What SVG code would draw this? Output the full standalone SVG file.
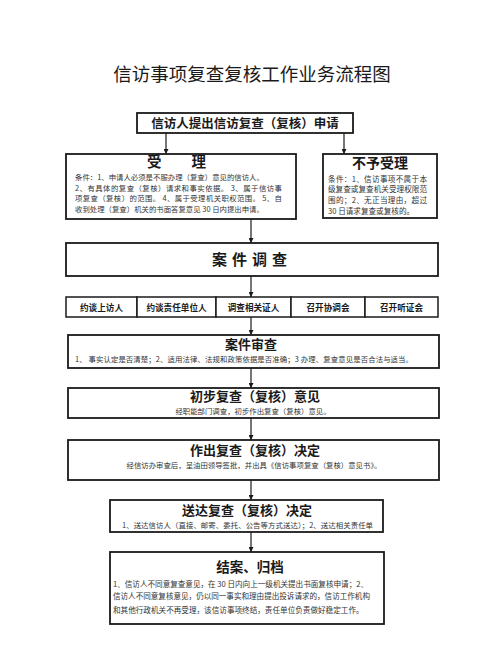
<svg xmlns="http://www.w3.org/2000/svg" width="500" height="660" viewBox="0 0 500 660">
<style>
.box{fill:#fff;stroke:#1a1a1a;stroke-width:1.8}
.cell{fill:#fff;stroke:#1a1a1a;stroke-width:1.5}
text{font-family:"Noto Sans CJK SC","Noto Sans",sans-serif;fill:#1a1a1a}
.h{font-weight:bold;text-anchor:middle}
.s{font-size:7.4px;fill:#333}
.sc{font-size:7.4px;fill:#333;text-anchor:middle}
.r{font-size:8.6px;font-weight:bold;text-anchor:middle}
.c{stroke:#1a1a1a;stroke-width:1.2;fill:none;marker-end:url(#ah)}
</style>
<defs>
<marker id="ah" viewBox="0 0 8 8" refX="8" refY="4" markerWidth="5" markerHeight="5" markerUnits="userSpaceOnUse" orient="auto"><path d="M0,0 L8,4 L0,8 Z" fill="#1a1a1a"/></marker>
</defs>
<rect width="500" height="660" fill="#fff"/>
<text x="252" y="81" class="h" style="font-size:18.5px;font-weight:normal">信访事项复查复核工作业务流程图</text>

<g id="connectors">
<line class="c" x1="166" y1="133" x2="166" y2="154"/>
<line class="c" x1="344" y1="133" x2="344" y2="154"/>
<line class="c" x1="251" y1="219" x2="251" y2="243"/>
<line class="c" x1="251" y1="276" x2="251" y2="297"/>
<line class="c" x1="251" y1="317" x2="251" y2="335"/>
<line class="c" x1="251" y1="368" x2="251" y2="388"/>
<line class="c" x1="251" y1="418" x2="251" y2="440"/>
<line class="c" x1="251" y1="480" x2="251" y2="500"/>
<line class="c" x1="251" y1="532" x2="251" y2="552"/>
</g>

<g id="apply">
<rect class="box" x="137" y="113" width="216" height="20"/>
<text x="245" y="128" class="h" style="font-size:12.5px">信访人提出信访复查（复核）申请</text>
</g>

<g id="accept">
<rect class="box" x="66" y="154" width="230" height="65"/>
<text x="176.5" y="167" class="h" style="font-size:14.5px">受<tspan dx="30">理</tspan></text>
<text x="75" y="180" class="s">条件：1、申请人必须是不服办理（复查）意见的信访人。</text>
<text x="75" y="190.7" class="s" textLength="207" lengthAdjust="spacing">2、有具体的复查（复核）请求和事实依据。   3、属于信访事</text>
<text x="75" y="201.4" class="s" textLength="207" lengthAdjust="spacing">项复查（复核）的范围。 4、属于受理机关职权范围。 5、自</text>
<text x="75" y="212.1" class="s">收到处理（复查）机关的书面答复意见 30 日内提出申请。</text>
</g>

<g id="reject">
<rect class="box" x="323" y="154" width="114" height="64"/>
<text x="380" y="168" class="h" style="font-size:14px">不予受理</text>
<text x="328" y="181.5" class="s" textLength="99" lengthAdjust="spacing" style="font-size:7.6px">条件：1、信访事项不属于本</text>
<text x="328" y="192.3" class="s" textLength="99" lengthAdjust="spacing" style="font-size:7.6px">级复查或复查机关受理权限范</text>
<text x="328" y="203.1" class="s" textLength="99" lengthAdjust="spacing" style="font-size:7.6px">围的；2、无正当理由，超过</text>
<text x="328" y="213.9" class="s" style="font-size:7.6px">30 日请求复查或复核的。</text>
</g>

<g id="investigate">
<rect class="box" x="66" y="243" width="372" height="33"/>
<text x="252" y="265" class="h" style="font-size:15px;letter-spacing:5px">案件调查</text>
</g>

<g id="methods">
<rect class="cell" x="66" y="297" width="71" height="20"/>
<rect class="cell" x="137" y="297" width="79" height="20"/>
<rect class="cell" x="216" y="297" width="75" height="20"/>
<rect class="cell" x="291" y="297" width="74" height="20"/>
<rect class="cell" x="365" y="297" width="73" height="20"/>
<text x="101.5" y="311" class="r">约谈上访人</text>
<text x="176.5" y="311" class="r">约谈责任单位人</text>
<text x="253.5" y="311" class="r">调查相关证人</text>
<text x="328" y="311" class="r">召开协调会</text>
<text x="401.5" y="311" class="r">召开听证会</text>
</g>

<g id="review">
<rect class="box" x="68" y="335" width="371" height="33"/>
<text x="251" y="349" class="h" style="font-size:13px">案件审查</text>
<text x="75" y="362" class="s" textLength="338" lengthAdjust="spacing">1、 事实认定是否清楚；2、适用法律、法规和政策依据是否准确；3 办理、复查意见是否合法与适当。</text>
</g>

<g id="opinion">
<rect class="box" x="68" y="388" width="371" height="30"/>
<text x="255" y="401.3" class="h" style="font-size:13px">初步复查（复核）意见</text>
<text x="253" y="414.2" class="sc">经职能部门调查，初步作出复查（复核）意见。</text>
</g>

<g id="decision">
<rect class="box" x="68" y="440" width="371" height="40"/>
<text x="255" y="455" class="h" style="font-size:13px">作出复查（复核）决定</text>
<text x="254" y="468" class="sc">经信访办审查后，呈油田领导签批，并出具《信访事项复查（复核）意见书》。</text>
</g>

<g id="deliver">
<rect class="box" x="110" y="500" width="273" height="32"/>
<text x="247" y="514.8" class="h" style="font-size:13px">送达复查（复核）决定</text>
<text x="122" y="528" class="s" textLength="251" lengthAdjust="spacing">1、送达信访人（直接、邮寄、委托、公告等方式送达）；2、送达相关责任单</text>
</g>

<g id="close">
<rect class="box" x="110" y="552" width="274" height="72"/>
<text x="250" y="571.5" class="h" style="font-size:13.5px">结案、归档</text>
<text x="113" y="587" class="s" textLength="255" lengthAdjust="spacing" style="font-size:7.6px">1、信访人不同意复查意见，在 30 日内向上一级机关提出书面复核申请；2、</text>
<text x="113" y="599" class="s" textLength="257" lengthAdjust="spacing" style="font-size:7.6px">信访人不同意复核意见，仍以同一事实和理由提出投诉请求的，信访工作机构</text>
<text x="113" y="613" class="s" style="font-size:7.6px">和其他行政机关不再受理，该信访事项终结，责任单位负责做好稳定工作。</text>
</g>
</svg>
